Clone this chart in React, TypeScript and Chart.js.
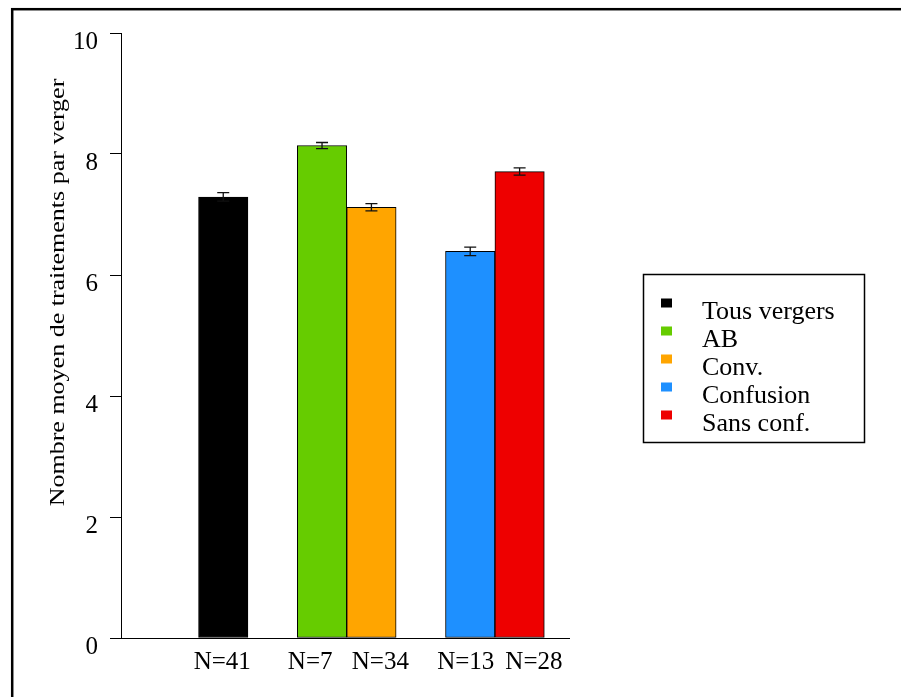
import React, { useEffect, useRef } from 'react';
import { Chart, registerables } from 'chart.js';

Chart.register(...registerables);

const categories = ['Tous vergers', 'AB', 'Conv.', 'Confusion', 'Sans conf.'];
const sampleLabels = ['N=41', 'N=7', 'N=34', 'N=13', 'N=28'];
const barPositions = [1, 3, 4, 6, 7];
const sampleLabelAnchors = [0.98, 2.76, 4.18, 5.91, 7.29];
const means = [7.29, 8.14, 7.12, 6.39, 7.71];
const stdErrors = [0.07, 0.05, 0.06, 0.07, 0.06];
const barColors = ['#000000', '#66CC00', '#FFA500', '#1E90FF', '#EE0000'];
const yTicks = [0, 2, 4, 6, 8, 10];
const yTitle = 'Nombre moyen de traitements par verger';

const SERIF = '"Liberation Serif", "Times New Roman", serif';

const framePlugin = {
  id: 'frame',
  beforeDraw(chart: any) {
    const ctx = chart.ctx;
    ctx.save();
    ctx.fillStyle = '#ffffff';
    ctx.fillRect(0, 0, chart.width, chart.height);
    ctx.restore();
  },
  afterDraw(chart: any) {
    const ctx = chart.ctx;
    ctx.save();
    ctx.strokeStyle = '#000000';
    ctx.lineWidth = 2.5;
    ctx.strokeRect(12.2, 9.2, 1000, 1000);
    ctx.restore();
  },
};

const errorBarPlugin = {
  id: 'errorBars',
  afterDatasetsDraw(chart: any) {
    const ctx = chart.ctx;
    const xs = chart.scales.x;
    const ys = chart.scales.y;
    ctx.save();
    ctx.strokeStyle = '#111111';
    ctx.lineWidth = 1.3;
    barPositions.forEach((pos, i) => {
      const x = xs.getPixelForValue(pos);
      const yHi = ys.getPixelForValue(means[i] + stdErrors[i]);
      const yLo = ys.getPixelForValue(means[i] - stdErrors[i]);
      ctx.beginPath();
      ctx.moveTo(x, yHi);
      ctx.lineTo(x, yLo);
      ctx.moveTo(x - 6, yHi);
      ctx.lineTo(x + 6, yHi);
      ctx.moveTo(x - 6, yLo);
      ctx.lineTo(x + 6, yLo);
      ctx.stroke();
    });
    ctx.restore();
  },
};

const titlePlugin = {
  id: 'yTitleText',
  afterDraw(chart: any) {
    const ctx = chart.ctx;
    ctx.save();
    ctx.translate(64, 292.5);
    ctx.rotate(-Math.PI / 2);
    ctx.scale(1, 0.8);
    ctx.font = `26px ${SERIF}`;
    ctx.fillStyle = '#000000';
    ctx.textAlign = 'center';
    ctx.textBaseline = 'alphabetic';
    ctx.fillText(yTitle, 0, 0);
    ctx.restore();
  },
};

const legendPlugin = {
  id: 'boxLegend',
  afterDraw(chart: any) {
    const ctx = chart.ctx;
    ctx.save();
    ctx.strokeStyle = '#000000';
    ctx.lineWidth = 1.5;
    ctx.strokeRect(643.5, 274.5, 221, 168);
    ctx.font = `26px ${SERIF}`;
    ctx.textAlign = 'left';
    ctx.textBaseline = 'alphabetic';
    categories.forEach((name, i) => {
      const cy = 303 + i * 28;
      ctx.fillStyle = barColors[i];
      ctx.fillRect(661, cy - 4.5, 11, 9);
      ctx.fillStyle = '#000000';
      ctx.fillText(name, 702, cy + 16);
    });
    ctx.restore();
  },
};

export default function App() {
  const canvasRef = useRef<HTMLCanvasElement | null>(null);

  useEffect(() => {
    if (!canvasRef.current) return;
    const chart = new Chart(canvasRef.current, {
      type: 'bar',
      data: {
        datasets: [
          {
            label: 'Nombre moyen',
            data: barPositions.map((x, i) => ({ x, y: means[i] })),
            backgroundColor: barColors,
            borderColor: '#000000',
            borderWidth: 1,
            borderSkipped: false,
            categoryPercentage: 1,
            barPercentage: 1,
          },
        ],
      },
      options: {
        responsive: false,
        animation: false,
        layout: { padding: { left: 0, top: 33, right: 332, bottom: 0 } },
        plugins: {
          legend: { display: false },
          tooltip: { enabled: false },
        },
        scales: {
          x: {
            type: 'linear',
            offset: false,
            min: -1.07,
            max: 8,
            grid: { display: false, drawTicks: false, offset: false },
            border: { display: true, color: '#000000', width: 1 },
            afterBuildTicks: (scale: any) => {
              scale.ticks = sampleLabelAnchors.map((v) => ({ value: v }));
            },
            afterFit: (scale: any) => {
              scale.height = 59;
            },
            ticks: {
              autoSkip: false,
              maxRotation: 0,
              minRotation: 0,
              padding: 9,
              color: '#000000',
              font: { family: SERIF, size: 25 },
              callback: (_v: any, index: number) => sampleLabels[index],
            },
          },
          y: {
            type: 'linear',
            min: 0,
            max: 10,
            grid: {
              drawOnChartArea: false,
              drawTicks: true,
              tickLength: 11,
              color: '#000000',
              lineWidth: 1,
            },
            border: { display: true, color: '#000000', width: 1 },
            afterBuildTicks: (scale: any) => {
              scale.ticks = yTicks.map((v) => ({ value: v }));
            },
            afterFit: (scale: any) => {
              scale.width = 121;
            },
            ticks: {
              padding: 12,
              labelOffset: 9,
              color: '#000000',
              font: { family: SERIF, size: 25 },
              callback: (v: any) => String(v),
            },
          },
        },
      },
      plugins: [framePlugin, errorBarPlugin, titlePlugin, legendPlugin],
    } as any);
    return () => chart.destroy();
  }, []);

  return (
    <div style={{ position: 'fixed', left: 0, top: 0, width: 901, height: 697 }}>
      <canvas ref={canvasRef} width={901} height={697} style={{ display: 'block' }} />
    </div>
  );
}
